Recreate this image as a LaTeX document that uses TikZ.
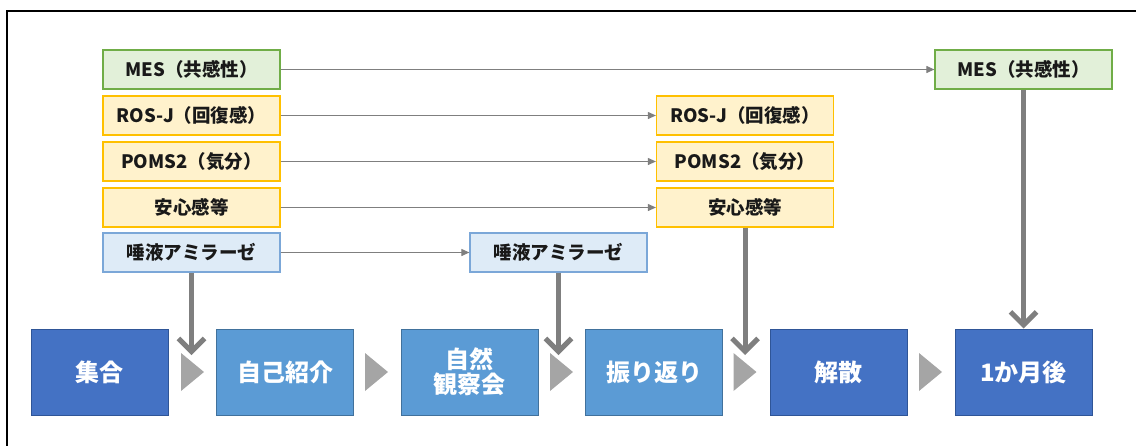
\documentclass[tikz,border=0pt]{standalone}
\usepackage{fontspec}
\setmainfont{Noto Sans CJK JP}
\usetikzlibrary{arrows.meta,calc}
\definecolor{dkblue}{HTML}{4472C4}
\definecolor{dkblueB}{HTML}{2F5597}
\definecolor{ltblue}{HTML}{5B9BD5}
\definecolor{ltblueB}{HTML}{41719C}
\definecolor{grnF}{HTML}{E2F0D9}
\definecolor{grnB}{HTML}{70AD47}
\definecolor{ylwF}{HTML}{FFF2CC}
\definecolor{ylwB}{HTML}{FFC000}
\definecolor{pbF}{HTML}{DEEBF7}
\definecolor{pbB}{HTML}{7BA7D8}
\definecolor{arrgray}{HTML}{7F7F7F}
\definecolor{trigray}{HTML}{A5A5A5}
\tikzset{
  small/.style={draw, line width=1.2pt, minimum width=177pt, minimum height=39pt, inner sep=0pt, font=\fontsize{18.5}{21}\selectfont\bfseries, text=black!90},
  mes/.style={small, fill=grnF, draw=grnB},
  ylw/.style={small, fill=ylwF, draw=ylwB},
  sal/.style={small, fill=pbF, draw=pbB},
  proc/.style={draw, line width=1pt, minimum width=137pt, minimum height=86pt, inner sep=0pt, text=white, font=\fontsize{24}{28}\selectfont\bfseries, align=center},
  dk/.style={proc, fill=dkblue, draw=dkblueB},
  lt/.style={proc, fill=ltblue, draw=ltblueB},
  thin arrow/.style={draw=arrgray, line width=1pt, -{Triangle[length=8pt,width=7pt]}},
  thick arrow/.style={draw=arrgray, line width=5pt, -{Straight Barb[length=13pt,width=26pt]}},
  tri/.style={fill=trigray}
}
\begin{document}
\begin{tikzpicture}[x=1pt,y=-1pt]
\useasboundingbox (0,0) rectangle (1136,445);
\draw[line width=1.5pt] (7,450) -- (7,11) -- (1140,11);
% left column
\node[mes] (mes1) at (191.5,69.5) {MES（共感性）};
\node[ylw] (ros1) at (191.5,115.5) {ROS-J（回復感）};
\node[ylw] (poms1) at (191.5,161.5) {POMS2（気分）};
\node[ylw] (anshin1) at (191.5,207.5) {安心感等};
\node[sal] (sal1) at (191.5,252.5) {唾液アミラーゼ};
% targets
\node[sal] (sal2) at (558.5,252.5) {唾液アミラーゼ};
\node[ylw] (ros2) at (745,115.5) {ROS-J（回復感）};
\node[ylw] (poms2) at (745,161.5) {POMS2（気分）};
\node[ylw] (anshin2) at (745,207.5) {安心感等};
\node[mes] (mes2) at (1023.5,69.5) {MES（共感性）};
% process
\node[dk] (p1) at (99.5,372) {集合};
\node[lt] (p2) at (285,372) {自己紹介};
\node[lt] (p3) at (469.5,372) {自然\\[-3pt]観察会};
\node[lt] (p4) at (654,372) {振り返り};
\node[dk] (p5) at (838.5,372) {解散};
\node[dk] (p6) at (1023.5,372) {1か月後};
% triangles
\foreach \n/\cx in {1/192.5,2/376.5,3/561.5,4/745,5/930.5}{
  \coordinate (t\n) at (\cx,372);
  \fill[tri] ($(t\n)+(-11.5,-19)$) -- ($(t\n)+(11.5,0)$) -- ($(t\n)+(-11.5,19)$) -- cycle;
  \coordinate (t\n top) at ($(t\n)+(0,-17)$);
}
% thin arrows
\draw[thin arrow] (mes1) -- (mes2);
\draw[thin arrow] (ros1) -- (ros2);
\draw[thin arrow] (poms1) -- (poms2);
\draw[thin arrow] (anshin1) -- (anshin2);
\draw[thin arrow] (sal1) -- (sal2);
% thick arrows
\draw[thick arrow] (sal1.south) -- (sal1.south |- t1top);
\draw[thick arrow] (sal2.south) -- (sal2.south |- t3top);
\draw[thick arrow] (anshin2.south) -- (anshin2.south |- t4top);
\draw[thick arrow] (mes2.south) -- (p6.north);
\end{tikzpicture}
\end{document}
